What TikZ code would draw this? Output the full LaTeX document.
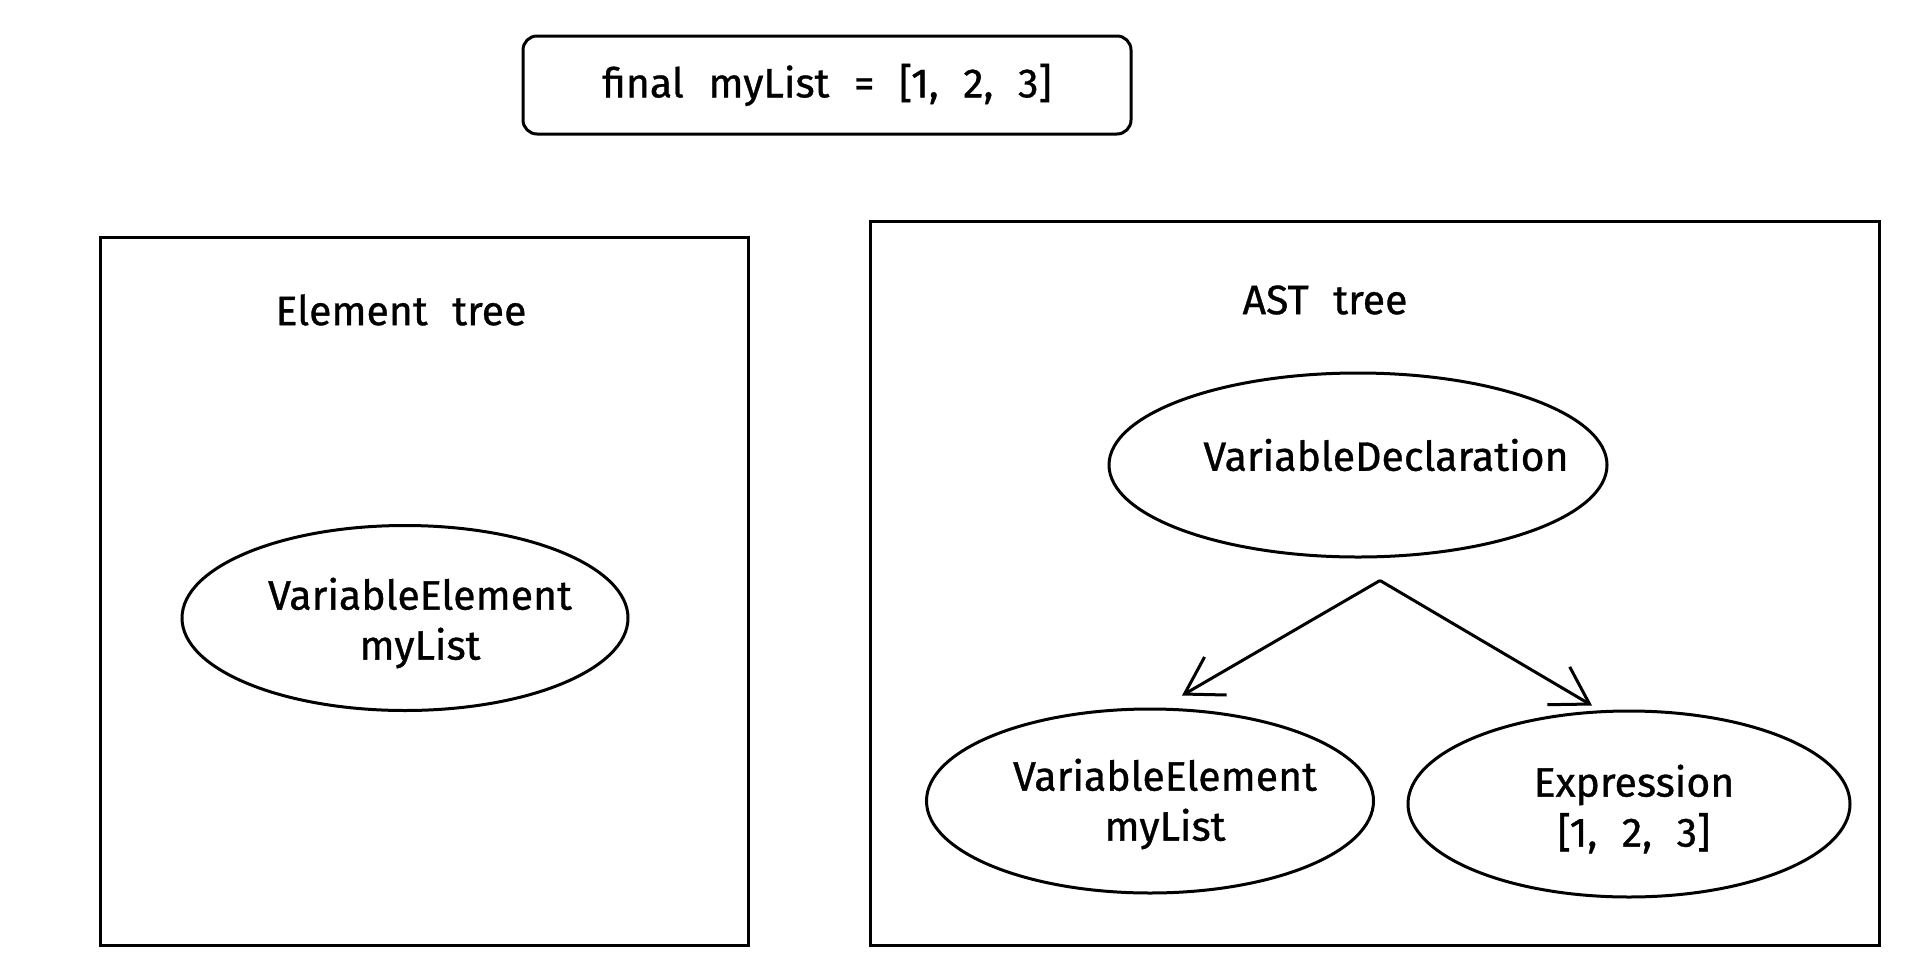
\documentclass[tikz,border=0pt]{standalone}
\usepackage{fontspec}
\setmainfont{Fira Sans}[FakeBold=0.8]
\usetikzlibrary{shapes.geometric,arrows.meta}
\newcommand\mylblfont{\fontsize{41}{50}\selectfont\spaceskip 0.6em\relax}
\tikzset{
  pen/.style={draw=black, line width=3pt},
  frame/.style={pen, rectangle, inner sep=0pt},
  oval/.style={pen, ellipse, inner sep=0pt},
  lbl/.style={font={\mylblfont}, align=center, inner sep=0pt},
  arr/.style={pen, -{Straight Barb[length=36pt, width=44pt, line width=3pt]}},
}
\begin{document}
\begin{tikzpicture}[x=1pt, y=-1pt]
\useasboundingbox[fill=white] (0,0) rectangle (1906,972);

% top code box
\node[pen, rounded corners=14pt, minimum width=608pt, minimum height=98pt] (code) at (827,85) {};
\node[lbl] (codet) at (827,85) {final myList = [1, 2, 3]};

% left frame
\node[frame, minimum width=648pt, minimum height=708pt] (left) at (424,591) {};
\node[lbl] (lt) at (401,310) {Element tree};
\node[oval, minimum width=446pt, minimum height=185pt] (ve1) at (405,618) {};
\node[lbl] (ve1t) at (420,623) {VariableElement\\myList};

% right frame
\node[frame, minimum width=1009pt, minimum height=724pt] (right) at (1374.5,583) {};
\node[lbl] (rt) at (1325,300) {AST tree};
\node[oval, minimum width=498pt, minimum height=184pt] (vd) at (1358,465) {};
\node[lbl] (vdt) at (1386,455) {VariableDeclaration};
\node[oval, minimum width=447pt, minimum height=184pt] (ve2) at (1150,801) {};
\node[lbl] (ve2t) at (1165,804) {VariableElement\\myList};
\node[oval, minimum width=442pt, minimum height=186pt] (ex) at (1629,804) {};
\node[lbl] (ext) at (1634,809) {Expression\\{[1, 2, 3]}};

% arrows
\coordinate (fork) at ([shift={(22,22)}]vd.south);
\draw[arr] (fork) -- ([shift={(32,-12)}]ve2.north);
\draw[arr] (fork) -- ([shift={(-37,-4)}]ex.north);
\end{tikzpicture}
\end{document}
